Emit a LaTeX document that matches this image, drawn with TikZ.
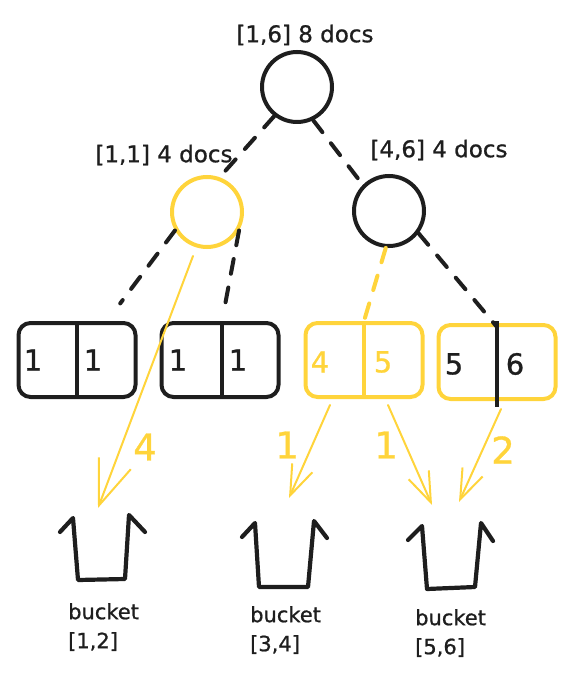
\documentclass[tikz,border=0pt]{standalone}
\usepackage{fontspec}
\setmainfont{DejaVu Sans}[FakeBold=0.9]
\usepackage{tikz}
\usetikzlibrary{arrows.meta}
\definecolor{ink}{HTML}{1E1E1E}
\definecolor{hl}{HTML}{FFD43B}
\tikzstyle{treenode} = [draw=ink, circle, line width=4pt,
    minimum size=70pt, inner sep=0pt]
\tikzstyle{leafbox} = [draw=ink, rectangle, rounded corners=12pt,
    line width=4pt, minimum width=117pt, minimum height=74pt]
\tikzstyle{rangelbl} = [text=ink, font=\fontsize{23}{28}\selectfont]
\tikzstyle{digit} = [text=ink, inner sep=0pt, font=\fontsize{29}{34}\selectfont]
\tikzstyle{weight} = [text=hl, inner sep=0pt, font=\fontsize{37}{40}\selectfont]
\tikzstyle{branch} = [draw=ink, line width=4pt, line cap=round,
    dash pattern=on 15pt off 14pt]
\tikzstyle{divider} = [draw=ink, line width=4pt]
\tikzstyle{flow} = [draw=hl, line width=2pt, line cap=round]
\tikzstyle{pail} = [draw=ink, line width=4.2pt, line join=round, line cap=round]
\tikzstyle{pailtag} = [text=ink, align=left, anchor=north west, inner sep=0pt,
    font=\fontsize{21}{29}\selectfont]

\begin{document}
\begin{tikzpicture}[x=1pt, y=-1pt]
    \useasboundingbox (0,0) rectangle (574,684);

    % tree
    \node [treenode] (root) at (297,87) {};
    \node [treenode, draw=hl] (left) at (207,212) {};
    \node [treenode] (right) at (389,211) {};
    \node [rangelbl] (rootlbl) at (305,35) {[1,6] 8 docs};
    \node [rangelbl] (leftlbl) at (164,155) {[1,1] 4 docs};
    \node [rangelbl] (rightlbl) at (439,150) {[4,6] 4 docs};

    % leaves
    \node [leafbox] (b1) at (77,360) {};
    \node [leafbox] (b2) at (220,360) {};
    \node [leafbox, draw=hl] (b3) at (364,360) {};
    \node [leafbox, draw=hl] (b4) at (497,362) {};
    \draw [divider] (b1.north) -- (b1.south);
    \draw [divider] ([xshift=2pt]b2.north) -- ([xshift=2pt]b2.south);
    \draw [divider, draw=hl] (b3.north) -- (b3.south);
    \draw [divider] ([yshift=2pt]b4.north) -- ([yshift=-6pt]b4.south);

    \node [digit] (d11) at (33,360) {1};
    \node [digit] (d12) at (93,360) {1};
    \node [digit] (d21) at (178,360) {1};
    \node [digit] (d22) at (238,360) {1};
    \node [digit, text=hl] (d31) at (320,362) {4};
    \node [digit, text=hl] (d32) at (383,362) {5};
    \node [digit] (d41) at (454,364) {5};
    \node [digit] (d42) at (515,364) {6};

    % dashed links
    \draw [branch] (root.-128) -- (left.70);
    \draw [branch] (root.-64) -- (right.135);
    \draw [branch, shorten >=22pt] (left.-150) -- ([xshift=30pt]b1.north);
    \draw [branch, shorten >=8pt] (left.-30) -- ([xshift=2pt]b2.north);
    \draw [branch, draw=hl] (right.-95) -- (b3.north);
    \draw [branch] (right.-37) -- ([yshift=-4pt]b4.north);

    % counts into buckets
    \coordinate (in1) at (98,508);
    \coordinate (in2) at (289,498);
    \coordinate (in3) at (432,505);
    \coordinate (in4) at (459,502);
    \draw [flow, -{Straight Barb[length=45pt, width=34pt]}] ([xshift=-14pt, yshift=-7pt]left.south) -- (in1);
    \draw [flow, -{Straight Barb[length=30pt, width=22pt]}] ([xshift=-34pt, yshift=-6pt]b3.south) -- (in2);
    \draw [flow, -{Straight Barb[length=30pt, width=22pt]}] ([xshift=24pt, yshift=-6pt]b3.south) -- (in3);
    \draw [flow, -{Straight Barb[length=30pt, width=22pt]}] ([xshift=4pt, yshift=-8pt]b4.south) -- (in4);
    \node [weight] (w1) at (145,447) {4};
    \node [weight] (w2) at (287,445) {1};
    \node [weight] (w3) at (386,445) {1};
    \node [weight] (w4) at (503,450) {2};

    % buckets
    \draw [pail] (60,532) -- (73,518) -- (78,580) -- (125,579) -- (129,515) -- (145,532);
    \draw [pail] (242,537) -- (255,523) -- (259,587) -- (308,587) -- (314,521) -- (327,538);
    \draw [pail] (408,540) -- (422,526) -- (427,589) -- (475,587) -- (481,523) -- (493,541);
    \node [pailtag] (p1) at (68,603) {bucket\\{}[1,2]};
    \node [pailtag] (p2) at (250,606) {bucket\\{}[3,4]};
    \node [pailtag] (p3) at (415,609) {bucket\\{}[5,6]};

\end{tikzpicture}
\end{document}
